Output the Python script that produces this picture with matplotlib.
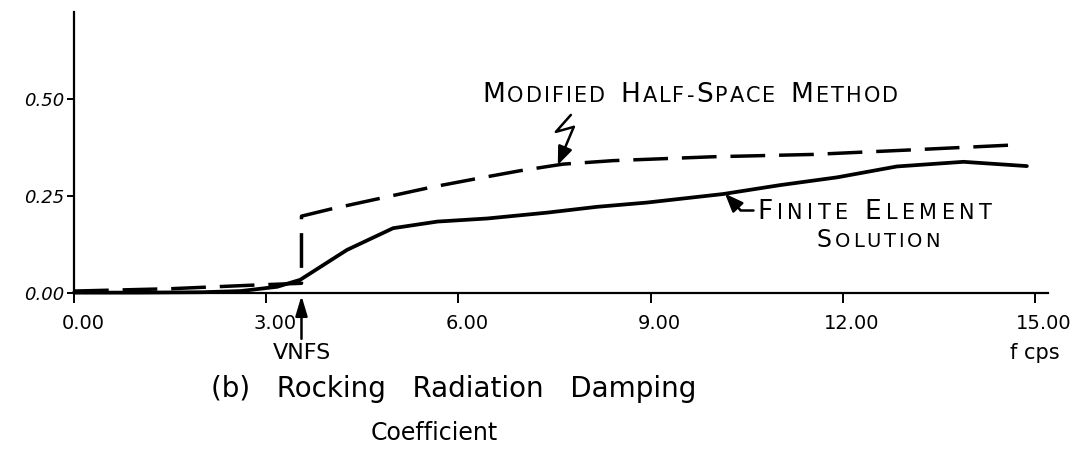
import numpy as np
import matplotlib
matplotlib.use("Agg")
import matplotlib.pyplot as plt
from matplotlib.transforms import ScaledTranslation, IdentityTransform
from matplotlib.patches import FancyArrowPatch
from matplotlib.lines import Line2D
from matplotlib.offsetbox import TextArea, HPacker, AnnotationBbox

# Rocking radiation damping coefficient vs frequency (cps)
freq_fe = [0.0, 1.0, 2.0, 2.6, 3.17, 3.53, 4.26, 4.98, 5.67, 6.45, 7.38,
           8.16, 8.94, 10.13, 11.02, 11.91, 12.84, 13.88, 14.87]
damp_fe = [0.001, 0.001, 0.002, 0.005, 0.016, 0.034, 0.111, 0.167, 0.184,
           0.192, 0.207, 0.222, 0.233, 0.255, 0.278, 0.298, 0.326, 0.338, 0.327]

freq_hs = [0.0, 1.5, 2.9, 3.55, 3.55, 4.0, 4.78, 5.56, 6.23, 6.96, 7.63,
           8.41, 9.97, 11.53, 13.1, 14.61]
damp_hs = [0.005, 0.011, 0.021, 0.025, 0.198, 0.216, 0.244, 0.272, 0.293,
           0.315, 0.332, 0.341, 0.351, 0.357, 0.369, 0.381]

vnfs_freq = 3.55
x_ticks = [0.0, 3.0, 6.0, 9.0, 12.0, 15.0]
y_ticks = [0.0, 0.25, 0.50]

fig = plt.figure(figsize=(10.83, 4.55), dpi=100)
ax = fig.add_axes([74 / 1083, 162 / 455, 974 / 1083, 281 / 455])
ax.set_xlim(0, 15.2)
ax.set_ylim(0, 0.724)

for side in ("top", "right"):
    ax.spines[side].set_visible(False)
for side in ("left", "bottom"):
    ax.spines[side].set_linewidth(1.6)
    ax.spines[side].set_color("black")

ax.plot(freq_fe, damp_fe, color="black", lw=2.7, solid_capstyle="round",
        solid_joinstyle="round", clip_on=False, zorder=3)
ax.plot(freq_hs, damp_hs, color="black", lw=2.5, linestyle=(0, (10, 4)),
        clip_on=False, zorder=3)

ax.set_xticks(x_ticks)
ax.set_xticklabels([f"{v:.2f}" for v in x_ticks])
ax.set_yticks(y_ticks)
ax.set_yticklabels([f"{v:.2f}" for v in y_ticks])
ax.tick_params(axis="x", direction="out", length=7, width=1.4, pad=8,
               labelsize=14)
ax.tick_params(axis="y", direction="out", length=5, width=1.4, pad=2,
               labelsize=13)
for lab in ax.get_yticklabels():
    lab.set_fontstyle("italic")
shift = ScaledTranslation(9 / 100, 0, fig.dpi_scale_trans)
for lab in ax.get_xticklabels():
    lab.set_transform(lab.get_transform() + shift)

# VNFS marker arrow below the axis
ax.annotate("VNFS", xy=(vnfs_freq, 0), xycoords="data",
            xytext=(0, -36), textcoords="offset points",
            ha="center", va="top", fontsize=16,
            arrowprops=dict(arrowstyle="-|>,head_length=0.6,head_width=0.18",
                            color="black", lw=1.8, shrinkA=1, shrinkB=2,
                            mutation_scale=20),
            annotation_clip=False)


def caps_box(text, big, small, letter_sep, word_sep):
    words = []
    for word in text.split(" "):
        chars = []
        for i, ch in enumerate(word):
            size = big if (i == 0 or word[i - 1] == "-") else small
            chars.append(TextArea(ch, textprops=dict(fontsize=size,
                                                     color="black")))
        words.append(HPacker(children=chars, align="baseline", pad=0,
                             sep=letter_sep))
    return HPacker(children=words, align="baseline", pad=0, sep=word_sep)


def place(box, xy, align):
    ab = AnnotationBbox(box, xy, xycoords="data", box_alignment=align,
                        frameon=False, pad=0, annotation_clip=False)
    ax.add_artist(ab)


place(caps_box("MODIFIED HALF-SPACE METHOD", 19, 15, 1.5, 11),
      (6.37, 0.51), (0, 0.5))
place(caps_box("FINITE ELEMENT", 19, 15, 3.2, 12), (10.66, 0.209), (0, 0.5))
place(caps_box("SOLUTION", 17, 14, 2.0, 8), (12.55, 0.137), (0.5, 0.5))


def pointer(tip, offsets_pt, lw=1.8):
    tx, ty = ax.transData.transform(tip)
    s = fig.dpi / 72
    verts = [(tx + dx * s, ty + dy * s) for dx, dy in offsets_pt] + [(tx, ty)]
    xs, ys = zip(*verts[:-1])
    fig.add_artist(Line2D(xs, ys, transform=IdentityTransform(),
                          color="black", lw=lw, solid_capstyle="round"))
    fig.add_artist(FancyArrowPatch(
        posA=verts[-2], posB=verts[-1], transform=IdentityTransform(),
        arrowstyle="-|>,head_length=0.55,head_width=0.22", mutation_scale=20,
        color="black", lw=lw, shrinkA=0, shrinkB=0))


hs_tip_f = 7.55
pointer((hs_tip_f, float(np.interp(hs_tip_f, freq_hs[4:], damp_hs[4:]))),
        [(9.4, 36), (-1.4, 23.8), (11.5, 27.4)])
fe_tip_f = 10.16
pointer((fe_tip_f, float(np.interp(fe_tip_f, freq_fe, damp_fe))),
        [(20, -11.5), (10.8, -11.5)])

fig.text(1035 / 1083, 1 - 353 / 455, "f cps", ha="center", va="center",
         fontsize=15)
fig.text(454 / 1083, 1 - 389 / 455, "(b)   Rocking   Radiation   Damping",
         ha="center", va="center", fontsize=20)
fig.text(434 / 1083, 1 - 433 / 455, "Coefficient", ha="center",
         va="center", fontsize=17)

fig.savefig("out.png", dpi=100)
